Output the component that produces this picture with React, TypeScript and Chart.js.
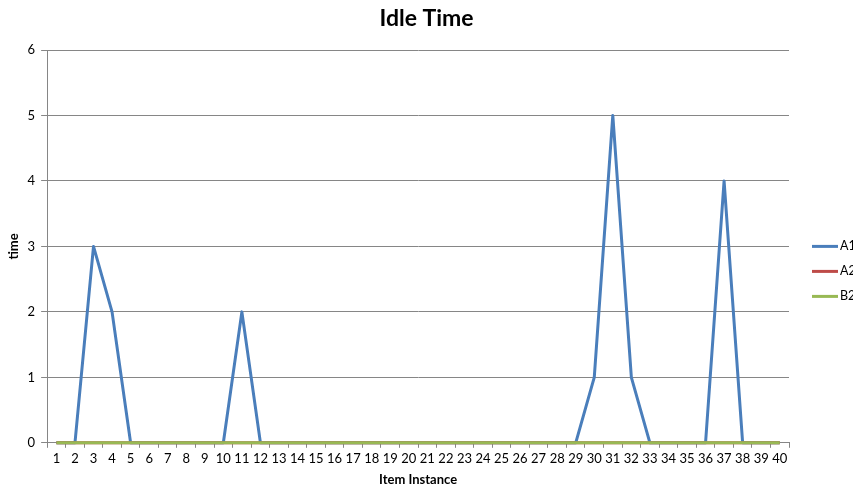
import React, { useEffect, useRef } from "react";
import { Chart, registerables } from "chart.js";

Chart.register(...registerables);

const categories = Array.from({ length: 40 }, (_, i) => String(i + 1));
const seriesA1 = [0, 0, 3, 2, 0, 0, 0, 0, 0, 0, 2, 0, 0, 0, 0, 0, 0, 0, 0, 0, 0, 0, 0, 0, 0, 0, 0, 0, 0, 1, 5, 1, 0, 0, 0, 0, 4, 0, 0, 0];
const seriesA2 = [0, 0, 0, 0, 0, 0, 0, 0, 0, 0, 0, 0, 0, 0, 0, 0, 0, 0, 0, 0, 0, 0, 0, 0, 0, 0, 0, 0, 0, 0, 0, 0, 0, 0, 0, 0, 0, 0, 0, 0];
const seriesB2 = [0, 0, 0, 0, 0, 0, 0, 0, 0, 0, 0, 0, 0, 0, 0, 0, 0, 0, 0, 0, 0, 0, 0, 0, 0, 0, 0, 0, 0, 0, 0, 0, 0, 0, 0, 0, 0, 0, 0, 0];
const seriesNames = ["A1", "A2", "B2"];
const seriesColors = ["#4A7EBB", "#BE4B48", "#98B954"];
const chartTitle = "Idle Time";

const FONT = "Lato, 'Open Sans', sans-serif";

const titleAndLegend = {
  id: "titleAndLegend",
  afterDraw(chart: any) {
    const ctx = chart.ctx;
    const ds = chart.data.datasets;
    const area = chart.chartArea;
    ctx.save();
    // centred title over the whole canvas
    ctx.font = `bold 23px ${FONT}`;
    ctx.fillStyle = "#000";
    ctx.textAlign = "center";
    ctx.textBaseline = "middle";
    ctx.fillText(chartTitle, chart.width / 2, 19);
    // legend at right
    const x0 = area.right + 23;
    const gap = 25;
    const midY = (area.top + area.bottom) / 2 + 25;
    const startY = midY - ((ds.length - 1) * gap) / 2;
    ctx.font = `12.5px ${FONT}`;
    ctx.textAlign = "left";
    ds.forEach((d: any, i: number) => {
      const y = startY + i * gap;
      ctx.strokeStyle = d.borderColor;
      ctx.lineWidth = 3;
      ctx.beginPath();
      ctx.moveTo(x0, y);
      ctx.lineTo(x0 + 26, y);
      ctx.stroke();
      ctx.fillStyle = "#000";
      ctx.fillText(d.label, x0 + 28, y);
    });
    ctx.restore();
  },
};

export default function App() {
  const ref = useRef<HTMLCanvasElement>(null);
  useEffect(() => {
    if (!ref.current) return;
    const data = [seriesA1, seriesA2, seriesB2];
    const chart = new Chart(ref.current, {
      type: "line",
      data: {
        labels: categories,
        datasets: data.map((d, i) => ({
          label: seriesNames[i],
          data: d,
          borderColor: seriesColors[i],
          backgroundColor: seriesColors[i],
          borderWidth: 3,
          borderJoinStyle: "round",
          pointRadius: 0,
          tension: 0,
          order: 3 - i,
          clip: 6,
        })),
      },
      plugins: [titleAndLegend],
      options: {
        animation: false,
        responsive: true,
        maintainAspectRatio: false,
        layout: { padding: { left: 6, right: 64, top: 50, bottom: 0 } },
        plugins: {
          title: { display: false },
          legend: { display: false },
          tooltip: { enabled: false },
        },
        scales: {
          x: {
            offset: true,
            grid: {
              offset: true,
              drawOnChartArea: false,
              drawTicks: true,
              tickLength: 5,
              color: "#868686",
            },
            border: { color: "#868686", width: 1 },
            ticks: {
              color: "#000",
              font: { family: FONT, size: 13 },
              maxRotation: 0,
              autoSkip: false,
              padding: 3,
            },
            title: {
              display: true,
              text: "Item Instance",
              color: "#000",
              font: { family: FONT, size: 13, weight: "bold" },
              padding: { top: 3, bottom: 0 },
            },
          },
          y: {
            min: 0,
            max: 6,
            grid: {
              color: "#868686",
              lineWidth: 1,
              tickLength: 6,
            },
            border: { color: "#868686", width: 1 },
            ticks: {
              stepSize: 1,
              color: "#000",
              font: { family: FONT, size: 13 },
              padding: 6,
            },
            title: {
              display: true,
              text: "time",
              color: "#000",
              font: { family: FONT, size: 13, weight: "bold" },
              padding: { top: 0, bottom: 0 },
            },
          },
        },
      },
    });
    return () => chart.destroy();
  }, []);
  return (
    <div style={{ position: "fixed", left: 0, top: 0, width: 853, height: 488, background: "#fff" }}>
      <canvas ref={ref} />
    </div>
  );
}
